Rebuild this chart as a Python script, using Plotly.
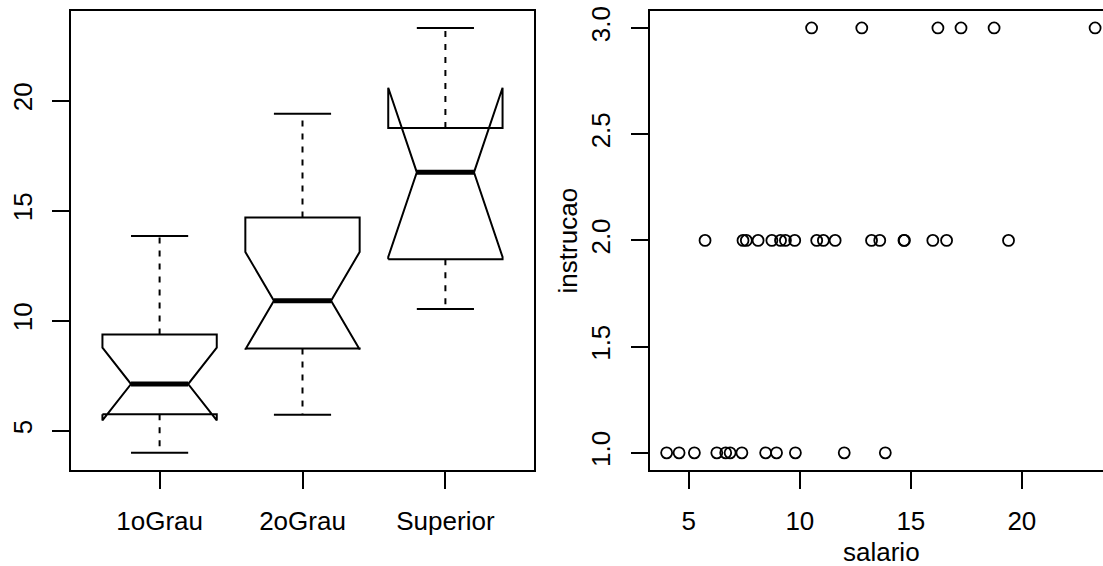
import math
import plotly.graph_objects as go

# Salários (em salários mínimos) e grau de instrução de 36 funcionários
salario = [4.00, 4.56, 5.25, 5.73, 6.26, 6.66, 6.86, 7.39, 7.59, 7.44, 8.12, 8.46,
           8.74, 8.95, 9.13, 9.35, 9.77, 9.80, 10.53, 10.76, 11.06, 11.59, 12.00, 12.79,
           13.23, 13.60, 13.85, 14.69, 14.71, 15.99, 16.22, 16.61, 17.26, 18.75, 19.40, 23.30]
instrucao = ["1oGrau", "1oGrau", "1oGrau", "2oGrau", "1oGrau", "1oGrau", "1oGrau", "1oGrau",
             "2oGrau", "2oGrau", "2oGrau", "1oGrau", "2oGrau", "1oGrau", "2oGrau", "2oGrau",
             "2oGrau", "1oGrau", "Superior", "2oGrau", "2oGrau", "2oGrau", "1oGrau", "Superior",
             "2oGrau", "2oGrau", "1oGrau", "2oGrau", "2oGrau", "2oGrau", "Superior", "2oGrau",
             "Superior", "Superior", "2oGrau", "Superior"]
niveis = ["1oGrau", "2oGrau", "Superior"]
codigo_instrucao = {"1oGrau": 1, "2oGrau": 2, "Superior": 3}

ticks_salario_box = [5, 10, 15, 20]
ticks_salario = [5, 10, 15, 20]
ticks_instrucao = [1.0, 1.5, 2.0, 2.5, 3.0]

FONT = "Liberation Sans, Arial, sans-serif"
FS = 26
LW = 2


def fivenum(v):
    v = sorted(v)
    n = len(v)
    n4 = math.floor((n + 3) / 2) / 2
    d = [1, n4, (n + 1) / 2, n + 1 - n4, n]
    return [0.5 * (v[math.floor(k) - 1] + v[math.ceil(k) - 1]) for k in d]


def box_stats(v):
    lo, q1, med, q3, hi = fivenum(v)
    iqr = q3 - q1
    inside = [x for x in v if q1 - 1.5 * iqr <= x <= q3 + 1.5 * iqr]
    notch = 1.58 * iqr / math.sqrt(len(v))
    return dict(q1=q1, med=med, q3=q3, lw=min(inside), uw=max(inside),
                nlo=med - notch, nhi=med + notch)


fig = go.Figure()
half = 0.4      # half box width
nf = 0.5        # notch fraction
for i, nivel in enumerate(niveis, start=1):
    vals = [s for s, g in zip(salario, instrucao) if g == nivel]
    st = box_stats(vals)
    line = dict(color="black", width=LW)
    dash = dict(color="black", width=LW, dash="6px,7px")
    # whiskers and staples
    for a, b in ((st["q3"], st["uw"]), (st["q1"], st["lw"])):
        fig.add_trace(go.Scatter(x=[i, i], y=[a, b], mode="lines", line=dash,
                                 xaxis="x", yaxis="y", hoverinfo="skip"))
        fig.add_trace(go.Scatter(x=[i - half * 0.5, i + half * 0.5], y=[b, b], mode="lines",
                                 line=line, xaxis="x", yaxis="y", hoverinfo="skip"))
    # notched box
    xs = [i - half, i - half, i - half * nf, i - half, i - half,
          i + half, i + half, i + half * nf, i + half, i + half, i - half]
    ys = [st["q1"], st["nlo"], st["med"], st["nhi"], st["q3"],
          st["q3"], st["nhi"], st["med"], st["nlo"], st["q1"], st["q1"]]
    fig.add_trace(go.Scatter(x=xs, y=ys, mode="lines", line=line,
                             xaxis="x", yaxis="y", hoverinfo="skip"))
    # median
    fig.add_trace(go.Scatter(x=[i - half * nf, i + half * nf], y=[st["med"], st["med"]],
                             mode="lines", line=dict(color="black", width=5),
                             xaxis="x", yaxis="y", hoverinfo="skip"))

# salario vs instrucao
fig.add_trace(go.Scatter(
    x=salario, y=[codigo_instrucao[g] for g in instrucao], mode="markers",
    marker=dict(symbol="circle-open", size=11, color="black", line=dict(width=1.8, color="black")),
    xaxis="x2", yaxis="y2", cliponaxis=False))

W, H = 1103, 566
ytop, ybot = 6, 469
ydom = [1 - ybot / H, 1 - ytop / H]

common = dict(showgrid=False, zeroline=False, ticks="outside", ticklen=17, tickwidth=LW,
              tickcolor="black", showline=True, linecolor="black", linewidth=LW,
              tickfont=dict(family=FONT, size=FS, color="black"))

fig.update_layout(
    width=W, height=H, margin=dict(l=0, r=0, t=0, b=0),
    paper_bgcolor="white", plot_bgcolor="white", showlegend=False,
    font=dict(family=FONT, size=FS, color="black"),
    xaxis=dict(domain=[71 / W, 534 / W], range=[0.38, 3.62], tickvals=[1, 2, 3],
               ticktext=niveis, mirror=True, anchor="y", ticklabelstandoff=10, **common),
    yaxis=dict(domain=ydom, range=[3.228, 24.072], tickvals=ticks_salario_box,
               tickangle=-90, mirror=True, anchor="x", ticklabelstandoff=10, **common),
    xaxis2=dict(domain=[649.5 / W, 1.0], range=[3.228, 3.228 + (W - 649.5) / 22.2],
                tickvals=ticks_salario, mirror=True, anchor="y2", ticklabelstandoff=10, **common),
    yaxis2=dict(domain=ydom, range=[0.92, 3.08], tickvals=ticks_instrucao, tickformat=".1f",
                tickangle=-90, mirror=False, anchor="x2", ticklabelstandoff=10, **common),
    annotations=[
        dict(text="salario", x=881 / W, y=1 - 552 / H, xref="paper", yref="paper",
             xanchor="center", yanchor="middle", showarrow=False,
             font=dict(family=FONT, size=FS, color="black")),
        dict(text="instrucao", x=568 / W, y=1 - 237.5 / H, xref="paper", yref="paper",
             xanchor="center", yanchor="middle", showarrow=False, textangle=-90,
             font=dict(family=FONT, size=FS, color="black")),
    ],
)

fig.write_html("out.html")
